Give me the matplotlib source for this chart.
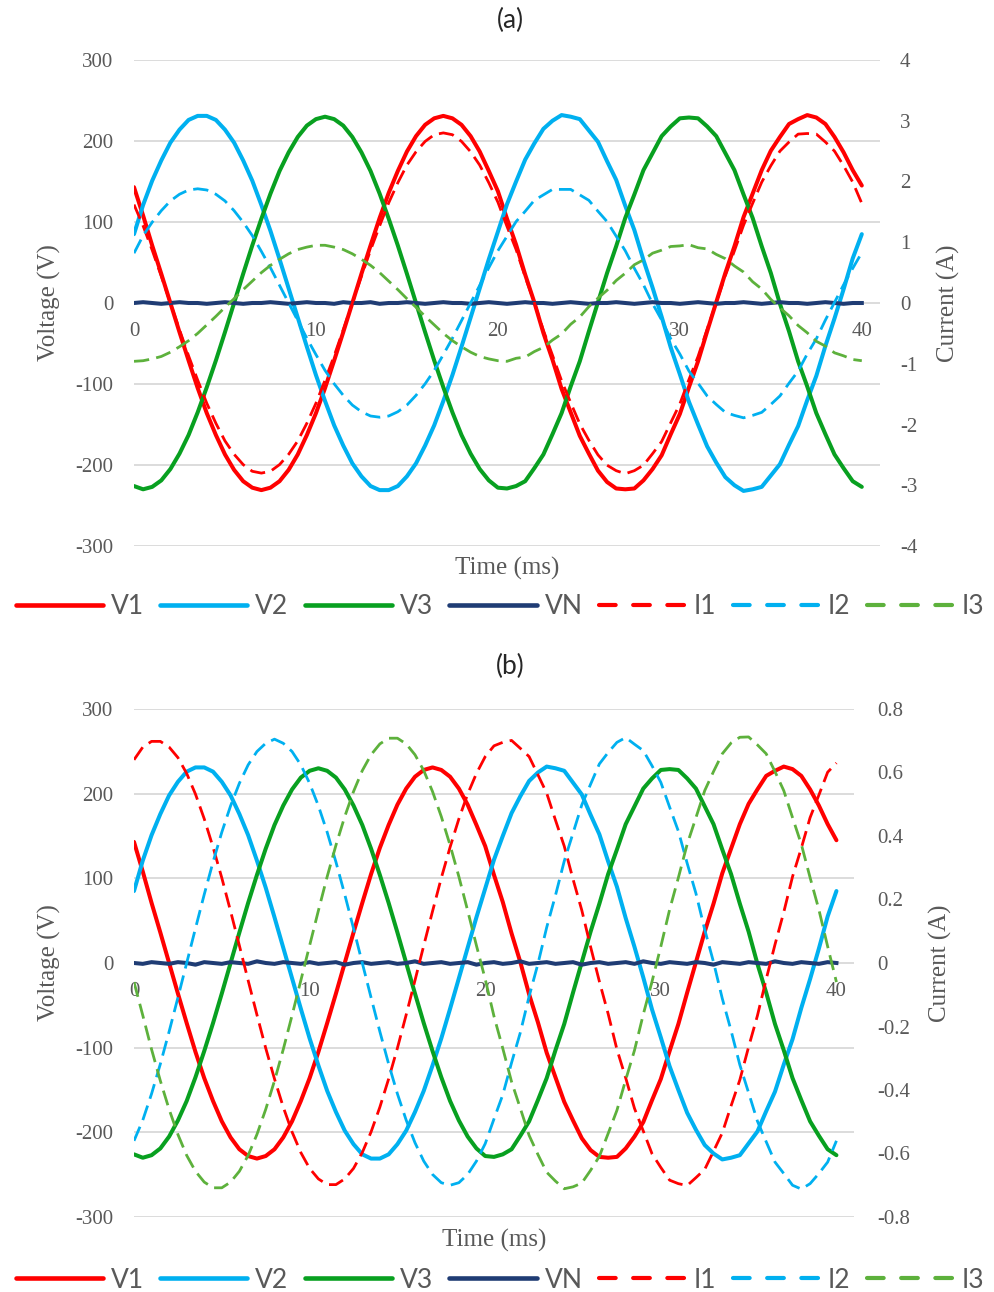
import matplotlib
matplotlib.use("Agg")
import matplotlib.pyplot as plt
from matplotlib.lines import Line2D
from matplotlib.ticker import FuncFormatter

plt.rcParams['axes.unicode_minus'] = False

# ---------------- data (sampled every 0.5 ms) ----------------
time_ms = [k * 0.5 for k in range(81)]
x_ticks = [0, 10, 20, 30, 40]

V1 = [143, 108, 71, 36, 0, -36, -71, -105, -136, -163, -187, -206, -220, -228, -231, -228, -220, -206, -187, -163,
      -136, -105, -71, -36, 0, 36, 71, 105, 136, 163, 187, 206, 220, 228, 231, 228, 220, 206, 187, 163,
      138, 104, 72, 35, 1, -37, -70, -106, -135, -164, -186, -207, -221, -229, -230, -229, -219, -205, -188, -162,
      -137, -104, -72, -35, 1, 37, 70, 106, 135, 164, 188, 205, 221, 227, 232, 229, 221, 205, 186, 164,
      145]
V2 = [85, 121, 151, 176, 198, 214, 226, 231, 231, 226, 214, 198, 176, 151, 121, 89, 54, 18, -18, -54,
      -89, -121, -151, -176, -198, -214, -226, -231, -231, -226, -214, -198, -176, -151, -121, -89, -54, -18, 18, 54,
      88, 122, 150, 177, 197, 215, 225, 232, 230, 227, 213, 199, 175, 152, 120, 90, 53, 19, -17, -55,
      -88, -122, -150, -177, -197, -215, -225, -232, -230, -227, -213, -199, -175, -152, -120, -90, -53, -19, 17, 55,
      85]
V3 = [-226, -230, -227, -219, -205, -186, -163, -135, -104, -71, -36, 0, 36, 71, 104, 135, 163, 186, 205, 219,
      227, 230, 227, 219, 205, 186, 163, 135, 104, 71, 36, 0, -36, -71, -104, -135, -163, -186, -205, -219,
      -228, -229, -226, -220, -204, -187, -162, -136, -103, -72, -35, 1, 37, 70, 105, 134, 164, 185, 206, 218,
      228, 229, 228, 218, 206, 185, 164, 134, 105, 70, 37, -1, -35, -72, -103, -136, -162, -187, -204, -220,
      -227]
VN_a = [0, 1, 0, -1, 0, 1, 0, 0, -1, 0, 1, 0, -1, 0, 0, 1, 0, -1, 0, 1,
        0, 0, -1, 1, 0, 0, 1, -1, 0, 0, 1, 0, -1, 0, 1, 0, 0, -1, 0, 1,
        0, -1, 0, 1, 0, 0, -1, 0, 1, 0, -1, 0, 0, 1, 0, -1, 0, 1, 0, 0,
        -1, 0, 1, 0, -1, 0, 0, 1, 0, -1, 0, 1, 0, 0, -1, 0, 1, 0, -1, 0,
        0]
VN_b = [0, -1, 1, 0, -1, 1, 0, -2, 1, 0, -1, 1, 0, -1, 2, 0, -1, 1, 0, -1,
        1, -1, 0, 1, -2, 0, 1, -1, 0, 1, -1, 0, 2, -1, 0, 1, -1, 0, 1, -2,
        0, 1, -1, 0, 2, -1, 0, 1, -1, 0, 1, -2, 0, 1, -1, 0, 1, -1, 2, 0,
        -1, 1, 0, -1, 1, 0, -2, 1, 0, -1, 1, 0, -1, 2, 0, -1, 1, 0, -1, 1,
        0]

I1_a = [1.62, 1.27, 0.87, 0.44, 0.00, -0.44, -0.87, -1.27, -1.65, -1.98, -2.27, -2.49, -2.66, -2.77, -2.80, -2.77,
        -2.66, -2.49, -2.27, -1.98, -1.65, -1.27, -0.87, -0.44, 0.00, 0.44, 0.87, 1.27, 1.65, 1.98, 2.27, 2.49,
        2.66, 2.77, 2.80, 2.77, 2.66, 2.49, 2.27, 1.98,
        1.66, 1.26, 0.88, 0.43, 0.01, -0.45, -0.86, -1.28, -1.64, -1.99, -2.26, -2.50, -2.67, -2.76, -2.81, -2.76,
        -2.67, -2.48, -2.28, -1.97, -1.66, -1.26, -0.88, -0.43, 0.01, 0.45, 0.86, 1.28, 1.64, 1.99, 2.26, 2.50,
        2.65, 2.78, 2.79, 2.78, 2.65, 2.50, 2.26, 1.99,
        1.64]
I2_a = [0.82, 1.11, 1.33, 1.52, 1.68, 1.79, 1.86, 1.88, 1.86, 1.79, 1.68, 1.52, 1.33, 1.11, 0.85, 0.58,
        0.29, 0.00, -0.29, -0.58, -0.85, -1.11, -1.33, -1.52, -1.68, -1.79, -1.86, -1.88, -1.86, -1.79, -1.68, -1.52,
        -1.33, -1.11, -0.85, -0.58, -0.29, 0.00, 0.29, 0.58,
        0.86, 1.10, 1.34, 1.51, 1.69, 1.78, 1.87, 1.87, 1.87, 1.78, 1.69, 1.51, 1.34, 1.10, 0.86, 0.57,
        0.30, -0.01, -0.28, -0.59, -0.84, -1.12, -1.32, -1.53, -1.67, -1.80, -1.85, -1.89, -1.85, -1.80, -1.67, -1.53,
        -1.32, -1.12, -0.84, -0.59, -0.28, 0.01, 0.30, 0.57,
        0.83]
I3_a = [-0.96, -0.95, -0.92, -0.88, -0.81, -0.72, -0.62, -0.50, -0.36, -0.22, -0.07, 0.07, 0.22, 0.36, 0.50, 0.62,
        0.72, 0.81, 0.88, 0.92, 0.95, 0.95, 0.92, 0.88, 0.81, 0.72, 0.62, 0.50, 0.36, 0.22, 0.07, -0.07,
        -0.22, -0.36, -0.50, -0.62, -0.72, -0.81, -0.88, -0.92,
        -0.95, -0.96, -0.91, -0.89, -0.80, -0.73, -0.61, -0.51, -0.35, -0.23, -0.06, 0.08, 0.21, 0.37, 0.49, 0.63,
        0.71, 0.82, 0.87, 0.93, 0.94, 0.96, 0.91, 0.89, 0.80, 0.73, 0.61, 0.51, 0.35, 0.23, 0.06, -0.08,
        -0.21, -0.37, -0.49, -0.63, -0.71, -0.82, -0.87, -0.93,
        -0.95]

I1_b = [0.640, 0.680, 0.698, 0.698, 0.680, 0.647, 0.597, 0.532, 0.454, 0.365, 0.268, 0.163, 0.055, -0.055,
        -0.163, -0.268, -0.365, -0.454, -0.532, -0.597, -0.647, -0.680, -0.698, -0.698, -0.680, -0.647, -0.597,
        -0.532, -0.454, -0.365, -0.268, -0.163, -0.055, 0.055, 0.163, 0.268, 0.365, 0.454, 0.532, 0.597,
        0.650, 0.684, 0.695, 0.701, 0.676, 0.650, 0.593, 0.535, 0.450, 0.368, 0.264, 0.166, 0.051, -0.058,
        -0.160, -0.272, -0.362, -0.458, -0.529, -0.601, -0.644, -0.684, -0.695, -0.701, -0.676, -0.650, -0.593,
        -0.535, -0.450, -0.368, -0.264, -0.166, -0.051, 0.058, 0.160, 0.272, 0.362, 0.458, 0.529, 0.601,
        0.630]
I2_b = [-0.560, -0.495, -0.412, -0.318, -0.216, -0.109, 0.000, 0.109, 0.216, 0.318, 0.412, 0.495, 0.566, 0.624,
        0.666, 0.692, 0.705, 0.692, 0.666, 0.624, 0.566, 0.495, 0.412, 0.318, 0.216, 0.109, 0.000, -0.109, -0.216,
        -0.318, -0.412, -0.495, -0.566, -0.624, -0.666, -0.692, -0.700, -0.692, -0.666, -0.624,
        -0.569, -0.491, -0.415, -0.314, -0.219, -0.105, -0.003, 0.112, 0.213, 0.321, 0.409, 0.498, 0.563, 0.627,
        0.663, 0.695, 0.710, 0.689, 0.669, 0.621, 0.569, 0.491, 0.415, 0.314, 0.219, 0.105, 0.003, -0.112, -0.213,
        -0.321, -0.409, -0.498, -0.563, -0.627, -0.663, -0.700, -0.712, -0.695, -0.663, -0.627,
        -0.560]
I3_b = [-0.060, -0.165, -0.272, -0.371, -0.461, -0.540, -0.606, -0.656, -0.690, -0.708, -0.708, -0.690, -0.656,
        -0.606, -0.540, -0.461, -0.371, -0.272, -0.165, -0.055, 0.055, 0.165, 0.272, 0.371, 0.461, 0.540, 0.606,
        0.656, 0.690, 0.708, 0.708, 0.690, 0.656, 0.606, 0.540, 0.461, 0.371, 0.272, 0.165, 0.055,
        -0.051, -0.168, -0.269, -0.374, -0.458, -0.543, -0.603, -0.659, -0.687, -0.711, -0.705, -0.693, -0.653,
        -0.609, -0.537, -0.464, -0.368, -0.275, -0.162, -0.058, 0.052, 0.168, 0.269, 0.374, 0.458, 0.543, 0.603,
        0.659, 0.693, 0.711, 0.712, 0.687, 0.659, 0.603, 0.543, 0.458, 0.374, 0.269, 0.168, 0.052,
        -0.060]

volt_ticks = [-300, -200, -100, 0, 100, 200, 300]
cur_ticks_a = [-4, -3, -2, -1, 0, 1, 2, 3, 4]
cur_ticks_b = [-0.8, -0.6, -0.4, -0.2, 0, 0.2, 0.4, 0.6, 0.8]
legend_labels = ["V1", "V2", "V3", "VN", "I1", "I2", "I3"]

# ---------------- style ----------------
RED = "#FF0000"
CYAN = "#00B0F0"
GREEN = "#08A020"
GREEN_D = "#5DB13C"
NAVY = "#1F3C74"
GRID = "#D9D9D9"
TXT = "#595959"
SERIF = "Liberation Serif"
SANS = "Lato"

W, H = 995, 1292
fig = plt.figure(figsize=(W / 100, H / 100), dpi=100)


def fmt_cur(v, pos):
    return ("%.1f" % v) if abs(v - round(v)) > 1e-9 else "%d" % round(v)


def make_panel(rect, volts, vn, currents, cur_lim, cur_ticks, title, title_y, xlab_y, ylab_x, clab_x, rpad,
               legend_y):
    l, t, r, b = rect
    ax = fig.add_axes([l / W, 1 - b / H, (r - l) / W, (b - t) / H])
    ax.set_xlim(0, 41)
    ax.set_ylim(-300, 300)
    ax.set_yticks(volt_ticks)
    ax.set_yticklabels([str(v) for v in volt_ticks])
    for yv in volt_ticks:
        ax.axhline(yv, color=GRID, lw=1.3, zorder=0)
    for s in ax.spines.values():
        s.set_visible(False)
    ax.spines['bottom'].set_position(('data', 0))
    ax.set_xticks(x_ticks)
    ax.set_xticklabels([str(v) for v in x_ticks])
    ax.tick_params(axis='x', length=0, pad=14, labelsize=15, labelcolor=TXT)
    ax.tick_params(axis='y', length=0, pad=15, labelsize=15, labelcolor=TXT)
    for lab in ax.get_xticklabels() + ax.get_yticklabels():
        lab.set_fontfamily(SERIF)

    solid_kw = dict(lw=2.9, solid_capstyle='round', solid_joinstyle='round')
    ax.plot(time_ms, volts[0], color=RED, **solid_kw, zorder=3)
    ax.plot(time_ms, volts[1], color=CYAN, **solid_kw, zorder=3)
    ax.plot(time_ms, volts[2], color=GREEN, **solid_kw, zorder=3)
    ax.plot(time_ms, vn, color=NAVY, lw=2.9, zorder=4)

    ax2 = ax.twinx()
    ax2.set_xlim(0, 41)
    ax2.set_ylim(*cur_lim)
    ax2.set_yticks(cur_ticks)
    ax2.yaxis.set_major_formatter(FuncFormatter(fmt_cur))
    for s in ax2.spines.values():
        s.set_visible(False)
    ax2.tick_params(axis='y', length=0, pad=rpad, labelsize=15, labelcolor=TXT)
    for lab in ax2.get_yticklabels():
        lab.set_fontfamily(SERIF)
    dash_kw = dict(lw=2.0, dashes=(5.5, 2.6), dash_capstyle='butt')
    ax2.plot(time_ms, currents[0], color=RED, **dash_kw)
    ax2.plot(time_ms, currents[1], color=CYAN, **dash_kw)
    ax2.plot(time_ms, currents[2], color=GREEN_D, **dash_kw)

    ax.set_ylabel("Voltage (V)", fontsize=18, family=SERIF, color=TXT)
    ax.yaxis.set_label_coords((ylab_x - l) / (r - l), 0.5)
    ax.yaxis.label.set_verticalalignment('center')
    ax2.set_ylabel("Current (A)", fontsize=18, family=SERIF, color=TXT, rotation=90)
    ax2.yaxis.set_label_coords((clab_x - l) / (r - l), 0.5)
    ax2.yaxis.label.set_verticalalignment('center')

    ax.set_xlabel("Time (ms)", fontsize=18, family=SERIF, color=TXT)
    ax.xaxis.set_label_coords(0.5, -(xlab_y - b) / (b - t))
    ax.xaxis.label.set_verticalalignment('center')

    fig.text(510 / W, 1 - title_y / H, title, ha='center', va='center', fontsize=19, family=SANS, color='#262626')

    handles = [
        Line2D([], [], color=RED, lw=3.3, solid_capstyle='round'),
        Line2D([], [], color=CYAN, lw=3.3, solid_capstyle='round'),
        Line2D([], [], color=GREEN, lw=3.3, solid_capstyle='round'),
        Line2D([], [], color=NAVY, lw=3.3, solid_capstyle='round'),
        Line2D([], [], color=RED, lw=3.0, dashes=(4.0, 4.2), dash_capstyle='round'),
        Line2D([], [], color=CYAN, lw=3.0, dashes=(4.0, 4.2), dash_capstyle='round'),
        Line2D([], [], color=GREEN_D, lw=3.0, dashes=(4.0, 4.2), dash_capstyle='round'),
    ]
    leg = fig.legend(handles, legend_labels, ncol=7, loc='center', bbox_to_anchor=(500 / W, 1 - legend_y / H),
                     frameon=False, prop={'family': SANS, 'size': 19}, handlelength=3.3, handletextpad=0.3,
                     columnspacing=0.62, borderaxespad=0, borderpad=0)
    for tx in leg.get_texts():
        tx.set_color(TXT)
    return ax, ax2


make_panel((134, 60, 880, 546), (V1, V2, V3), VN_a, (I1_a, I2_a, I3_a), (-4, 4), cur_ticks_a,
           "(a)", 20, 568, 49, 948, 14.4, 607)
make_panel((134, 709, 854, 1217), (V1, V2, V3), VN_b, (I1_b, I2_b, I3_b), (-0.8, 0.8), cur_ticks_b,
           "(b)", 666, 1240, 49, 940, 16.5, 1280)

fig.savefig("out.png", dpi=100)
